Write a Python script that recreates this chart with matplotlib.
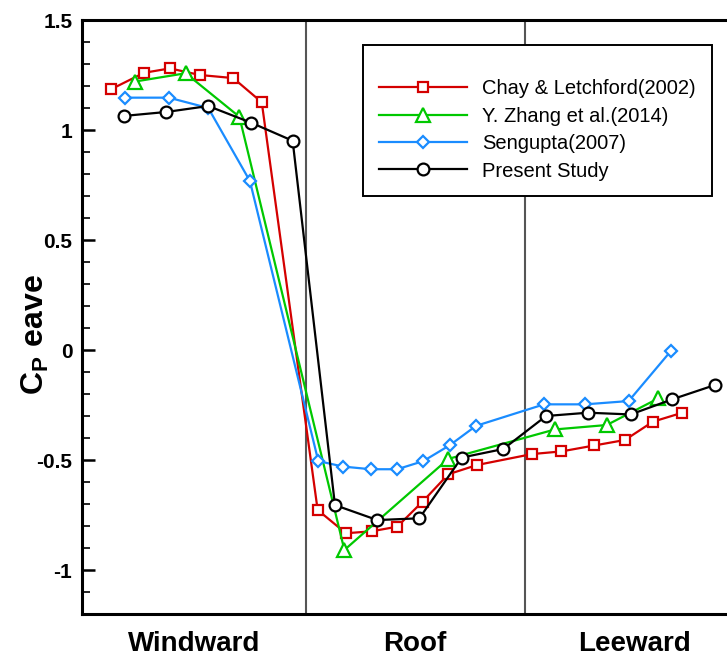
import matplotlib
matplotlib.use("Agg")
import matplotlib.pyplot as plt
from matplotlib.ticker import FixedLocator, MultipleLocator

plt.rcParams['font.family'] = ['Liberation Sans', 'DejaVu Sans']
plt.rcParams['mathtext.fontset'] = 'custom'
plt.rcParams['mathtext.rm'] = 'Liberation Sans:bold'
plt.rcParams['mathtext.it'] = 'Liberation Sans:bold'
plt.rcParams['mathtext.bf'] = 'Liberation Sans:bold'

# Position along the building section: windward wall 0-1, roof 1-2, leeward wall 2-3
chay_x = [0.112, 0.263, 0.381, 0.518, 0.670, 0.800, 1.055, 1.184, 1.302, 1.418,
          1.534, 1.651, 1.781, 2.033, 2.167, 2.317, 2.457, 2.584, 2.719]
chay_cp = [1.185, 1.26, 1.28, 1.25, 1.236, 1.126, -0.727, -0.833, -0.824, -0.803,
           -0.689, -0.565, -0.523, -0.473, -0.461, -0.434, -0.409, -0.326, -0.285]

zhang_x = [0.220, 0.453, 0.698, 1.177, 1.651, 2.138, 2.374, 2.609]
zhang_cp = [1.22, 1.258, 1.06, -0.909, -0.495, -0.361, -0.341, -0.220]

sengupta_x = [0.175, 0.376, 0.556, 0.746, 1.058, 1.172, 1.298, 1.418, 1.537,
              1.659, 1.777, 2.088, 2.276, 2.474, 2.666]
sengupta_cp = [1.147, 1.147, 1.10, 0.768, -0.505, -0.530, -0.542, -0.542, -0.505,
               -0.432, -0.345, -0.247, -0.247, -0.232, -0.005]

present_x = [0.172, 0.365, 0.556, 0.752, 0.941, 1.134, 1.327, 1.519, 1.712, 1.902,
             2.097, 2.288, 2.483, 2.673, 2.868]
present_cp = [1.064, 1.082, 1.109, 1.033, 0.951, -0.705, -0.773, -0.765, -0.489, -0.45,
              -0.30, -0.285, -0.293, -0.224, -0.159]

wall_edges = [1.0, 2.0]
region_names = ['Windward', 'Roof', 'Leeward']
region_centers = [0.49, 1.5, 2.5]
y_ticks = [-1, -0.5, 0, 0.5, 1, 1.5]
y_tick_labels = ['-1', '-0.5', '0', '0.5', '1', '1.5']

W, H = 727, 659
fig = plt.figure(figsize=(W / 100, H / 100), dpi=100)
ax = fig.add_axes([82 / W, 45 / H, 662 / W, 594 / H])

for xe in wall_edges:
    ax.axvline(xe, color='#555555', lw=1.5, zorder=1)

series = [
    (chay_x, chay_cp, '#d40000', 's', 6.8, 'Chay & Letchford(2002)'),
    (zhang_x, zhang_cp, '#00c800', '^', 9.5, 'Y. Zhang et al.(2014)'),
    (sengupta_x, sengupta_cp, '#1a8cff', 'D', 6.2, 'Sengupta(2007)'),
    (present_x, present_cp, '#000000', 'o', 8.5, 'Present Study'),
]
for i, (xs, ys, c, m, ms, lab) in enumerate(series):
    ax.plot(xs, ys, color=c, lw=1.6, marker=m, ms=ms, mfc='white', mec=c,
            mew=1.6, label=lab, zorder=3 + i)

ax.set_xlim(-0.02, 3.0)
ax.set_ylim(-1.2, 1.5)

ax.yaxis.set_major_locator(FixedLocator(y_ticks))
ax.set_yticklabels(y_tick_labels, fontsize=15, fontweight='bold')
ax.yaxis.set_minor_locator(MultipleLocator(0.1))
ax.tick_params(axis='y', which='major', direction='in', length=9, width=1.8, pad=7)
ax.tick_params(axis='y', which='minor', direction='in', length=5.5, width=1.2)
ax.set_xticks([])

for side in ['left', 'bottom', 'top']:
    ax.spines[side].set_linewidth(2.2)
ax.spines['right'].set_visible(False)

for name, xc in zip(region_names, region_centers):
    ax.text(xc, -0.0505, name, transform=ax.get_xaxis_transform(), ha='center',
            va='center', fontsize=20, fontweight='bold')

fig.text(35 / W, 1 - 335 / H, r'$\mathrm{C_P\ eave}$', rotation=90, ha='center',
         va='center', fontsize=23)

leg = ax.legend(loc='upper left', bbox_to_anchor=(363 / W, 1 - 45 / H),
                bbox_transform=fig.transFigure, borderaxespad=0, fontsize=14.5,
                handlelength=4.4, handletextpad=0.75, labelspacing=0.42,
                borderpad=0.78, fancybox=False, framealpha=1, edgecolor='black',
                title=' ', title_fontsize=7)
leg.get_frame().set_linewidth(1.4)

fig.savefig('out.png', dpi=100)
